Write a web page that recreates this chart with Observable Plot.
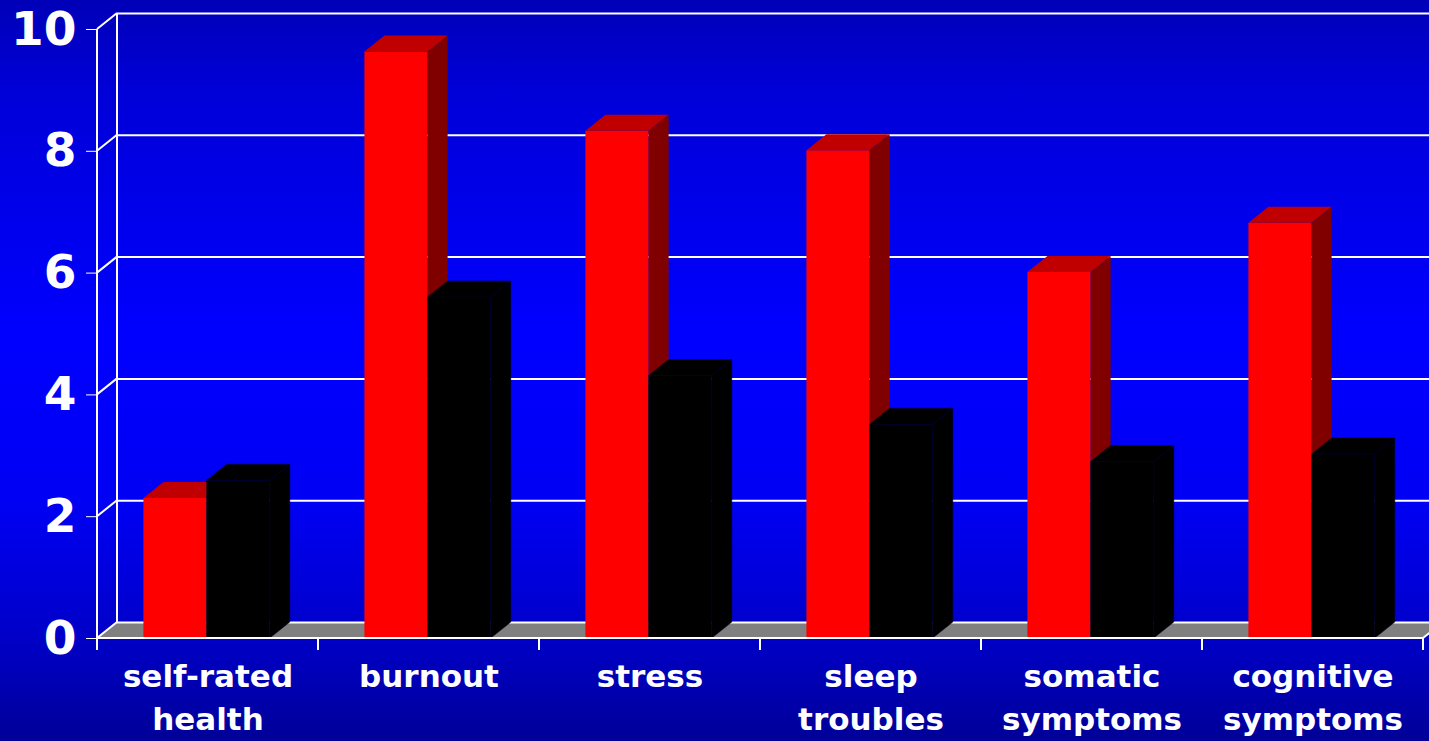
<!DOCTYPE html>
<html><head><meta charset="utf-8">
<script src="https://cdn.jsdelivr.net/npm/d3@7"></script>
<script src="https://cdn.jsdelivr.net/npm/@observablehq/plot@0.6"></script>
<style>
html,body{margin:0;padding:0;background:#0000c0;overflow:hidden}
#chart svg{display:block}
</style></head><body><div id="chart"></div>
<script>
// ---- data ----
const categories = ["self-rated health", "burnout", "stress", "sleep troubles", "somatic symptoms", "cognitive symptoms"];
const categoryLabels = ["self-rated\nhealth", "burnout", "stress", "sleep\ntroubles", "somatic\nsymptoms", "cognitive\nsymptoms"];
const seriesNames = ["red series", "black series"];
const seriesRed = [2.30, 9.63, 8.33, 8.01, 6.01, 6.82];
const seriesBlack = [2.59, 5.60, 4.31, 3.51, 2.90, 3.02];
const yTicks = [0, 2, 4, 6, 8, 10];

const data = categories.flatMap((c, i) => [
  {category: c, series: seriesNames[0], value: seriesRed[i], s: 0},
  {category: c, series: seriesNames[1], value: seriesBlack[i], s: 1}
]);

// ---- 3D projection settings ----
const DX = 20, DY = 16;
const faces = [
  {front: "#ff0000", top: "#c00000", side: "#800000", stroke: "none"},
  {front: "#000000", top: "#000000", side: "#000000", stroke: "#000030"}
];
const groupStart = 0.21, barFrac = 0.286;

function bw(x) { return x.bandwidth ? x.bandwidth() : (x(categories[1]) - x(categories[0])); }
const pts = (a) => a.map(p => p.join(",")).join(" ");

// back wall edge + floor
function backScene(index, scales, values, dim) {
  const y = scales.y;
  const x0 = dim.marginLeft, x1 = dim.width - dim.marginRight, y0 = y(0);
  const g = d3.create("svg:g");
  g.append("polygon").attr("points", pts([[x0, y0], [x1, y0], [x1 + DX, y0 - DY], [x0 + DX, y0 - DY]])).attr("fill", "#808080");
  g.append("line").attr("x1", x0 + DX).attr("x2", x0 + DX).attr("y1", y(d3.max(yTicks)) - DY).attr("y2", y0 - DY)
    .attr("stroke", "white").attr("stroke-width", 2);
  return g.node();
}

// 3D bars
function bars3d(index, scales, values, dim) {
  const x = scales.x, y = scales.y, w = bw(x), y0 = y(0);
  const g = d3.create("svg:g");
  for (const d of data) {
    const f = faces[d.s];
    const L = x(d.category) + w * (groupStart + d.s * barFrac);
    const R = L + w * barFrac;
    const t = y(d.value);
    const b = g.append("g");
    b.append("polygon").attr("points", pts([[L, y0], [R, y0], [R, t], [L, t]])).attr("fill", f.front).attr("stroke", f.stroke).attr("stroke-width", 0.5);
    b.append("polygon").attr("points", pts([[L, t], [R, t], [R + DX, t - DY], [L + DX, t - DY]])).attr("fill", f.top).attr("stroke", f.stroke).attr("stroke-width", 0.5);
    b.append("polygon").attr("points", pts([[R, y0], [R, t], [R + DX, t - DY], [R + DX, y0 - DY]])).attr("fill", f.side).attr("stroke", f.stroke).attr("stroke-width", 0.5);
  }
  return g.node();
}

// front axes, ticks, diagonals
function frontAxes(index, scales, values, dim) {
  const x = scales.x, y = scales.y, w = bw(x);
  const x0 = dim.marginLeft, x1 = dim.width - dim.marginRight, y0 = y(0);
  const g = d3.create("svg:g").attr("stroke", "white").attr("stroke-width", 2).attr("fill", "none");
  g.append("line").attr("x1", x0).attr("x2", x0).attr("y1", y(d3.max(yTicks))).attr("y2", y0);
  g.append("line").attr("x1", x0).attr("x2", x1).attr("y1", y0).attr("y2", y0);
  g.append("line").attr("x1", x1).attr("x2", x1 + DX).attr("y1", y0).attr("y2", y0 - DY);
  for (const v of yTicks) {
    g.append("line").attr("x1", x0).attr("x2", x0 + DX).attr("y1", y(v)).attr("y2", y(v) - DY);
  }
  const bounds = categories.map(c => x(c)).concat([x(categories[categories.length - 1]) + w]);
  for (const bx of bounds) {
    g.append("line").attr("x1", bx).attr("x2", bx).attr("y1", y0).attr("y2", y0 + 12);
  }
  return g.node();
}

const plot = Plot.plot({
  width: 1429,
  height: 741,
  marginLeft: 97,
  marginRight: 6,
  marginTop: 29,
  marginBottom: 103,
  style: {
    background: "linear-gradient(to bottom, #0000b8 0%, #0000d8 12%, #0000ff 45%, #0000f4 68%, #0000c8 86%, #000098 100%)",
    color: "white",
    fontFamily: "'DejaVu Sans', Verdana, sans-serif",
    fontWeight: "bold",
    fontSize: "47px",
    overflow: "visible"
  },
  x: {type: "band", domain: categories, padding: 0, axis: null},
  y: {domain: [0, 10], ticks: yTicks, tickSize: 11, tickPadding: 10, label: null, tickFormat: d => String(d)},
  marks: [
    backScene,
    Plot.ruleY(yTicks, {dx: DX, dy: -DY, stroke: "white", strokeWidth: 2}),
    bars3d,
    frontAxes,
    Plot.text(categories, {
      x: d => d,
      y: () => 0,
      text: (d, i) => categoryLabels[i],
      fill: "white",
      fontSize: 31,
      fontWeight: "bold",
      lineAnchor: "top",
      lineHeight: 1.36,
      dy: 19
    })
  ]
});
document.getElementById("chart").append(plot);
</script>
</body></html>
